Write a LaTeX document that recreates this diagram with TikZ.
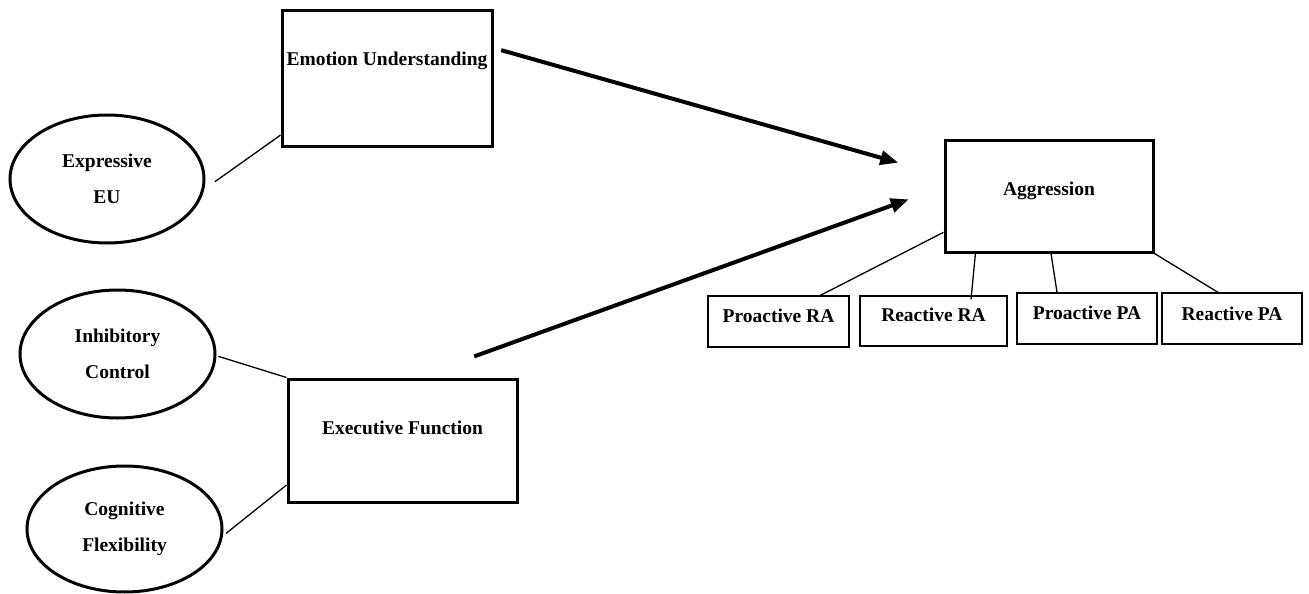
\documentclass[tikz,border=0pt]{standalone}
\usepackage{fontspec}
\setmainfont{Liberation Serif}
\usetikzlibrary{shapes.geometric, arrows.meta, positioning, calc}

\begin{document}
\begin{tikzpicture}[x=1pt, y=-1pt,
  font=\fontsize{19.5}{36}\selectfont\bfseries,
  bigbox/.style={draw, line width=3pt, inner sep=0pt, text height=55pt},
  smallbox/.style={draw, line width=1.1pt, inner sep=0pt},
  latent/.style={draw, ellipse, line width=3pt, align=center, inner sep=0pt,
    minimum width=195pt, minimum height=128pt},
  link/.style={line width=1.3pt},
  effect/.style={line width=4pt, -{Triangle[length=18pt, width=14pt]}}]
\useasboundingbox (0,0) rectangle (1309,594);

% Constructs
\node[bigbox, minimum width=210pt, text depth=80pt] (eu) at (387,78.5) {Emotion Understanding};
\node[bigbox, minimum width=229pt, text depth=68pt] (ef) at (402.5,440.5) {Executive Function};
\node[bigbox, minimum width=208pt, text depth=57pt] (agg) at (1049,196) {Aggression};

% Indicators
\node[latent, minimum width=194pt] (eeu) at (107,179) {Expressive\\EU};
\node[latent] (ic) at (117.5,354) {Inhibitory\\Control};
\node[latent, minimum height=126pt] (cf) at (124.5,529) {Cognitive\\Flexibility};

\node[smallbox, minimum width=141pt, text height=26pt, text depth=25pt] (pra) at (778.5,321.5) {Proactive RA};
\node[smallbox, minimum width=147pt, text height=25pt, text depth=25pt] (rra) at (933.5,321) {Reactive RA};
\node[smallbox, minimum width=140pt, text height=26pt, text depth=25pt] (ppa) at (1087,318.5) {Proactive PA};
\node[smallbox, minimum width=140pt, text height=27pt, text depth=24pt] (rpa) at (1232,318.5) {Reactive PA};

% Loadings
\draw[link, shorten <=13pt] (eeu.-6) -- (eu.208);
\draw[link, shorten <=2pt] (ic.-1) -- (ef.north west);
\draw[link, shorten <=4pt] (cf.-4) -- (ef.201.6);
\draw[link] (agg.199.6) -- (pra.32.8);
\draw[link, shorten >=-4pt] (agg.218.3) -- (rra.34.6);
\draw[link] (agg.-88) -- (ppa.139.6);
\draw[link] (agg.south east) -- (rpa.118.8);

% Paths
\draw[effect, shorten <=8pt, shorten >=47pt] (eu.16.7) -- (agg.169);
\draw[effect, shorten <=62pt, shorten >=37pt] (ef.78.5) -- (agg.175.2);
\end{tikzpicture}
\end{document}
